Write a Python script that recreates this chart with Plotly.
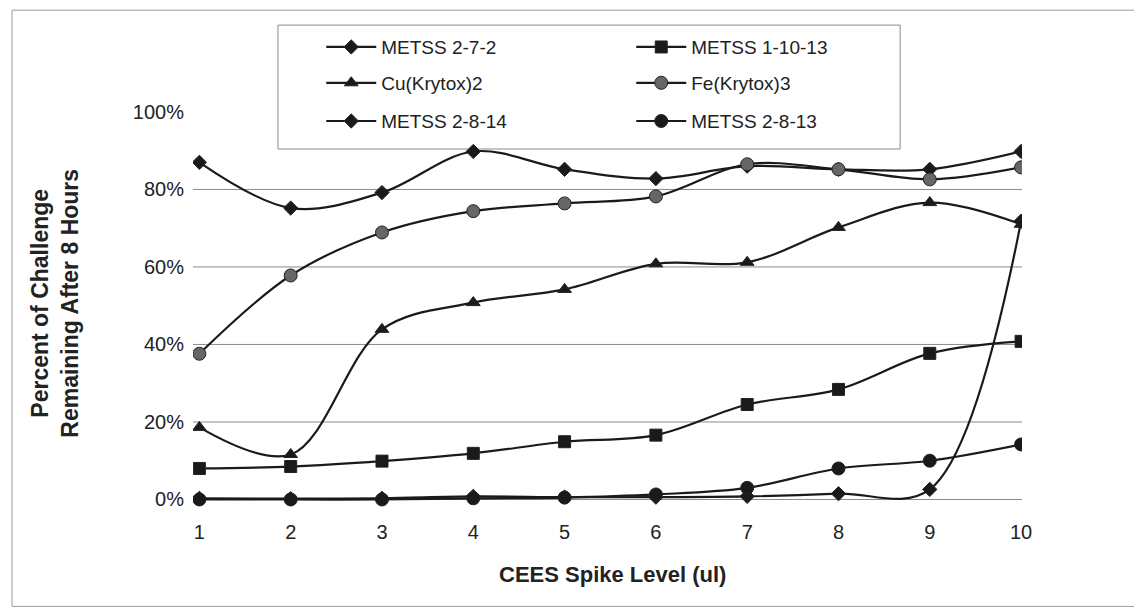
import plotly.graph_objects as go

spike_levels = [1, 2, 3, 4, 5, 6, 7, 8, 9, 10]
metss_2_7_2 = [87.0, 75.2, 79.2, 89.8, 85.2, 82.8, 86.0, 85.2, 85.2, 89.8]
metss_1_10_13 = [8.0, 8.5, 9.9, 11.9, 14.9, 16.6, 24.5, 28.4, 37.7, 40.8]
cu_krytox2 = [18.6, 11.6, 43.9, 50.8, 54.2, 60.8, 61.2, 70.2, 76.6, 71.0]
fe_krytox3 = [37.6, 57.8, 68.9, 74.4, 76.4, 78.2, 86.5, 85.2, 82.6, 85.7]
metss_2_8_14 = [0.3, 0.2, 0.3, 0.8, 0.6, 0.6, 0.8, 1.5, 2.6, 71.8]
metss_2_8_13 = [0.0, 0.0, 0.0, 0.3, 0.5, 1.3, 3.0, 8.0, 10.0, 14.2]
y_ticks = [0, 20, 40, 60, 80, 100]
y_tick_labels = ["0%", "20%", "40%", "60%", "80%", "100%"]
grid_values = [0, 20, 40, 60, 80]

FONT = "Liberation Sans, Arial, sans-serif"
INK = "#1a1a1a"

series = [
    ("METSS 2-7-2", metss_2_7_2, "diamond", 11, INK, "legend"),
    ("METSS 1-10-13", metss_1_10_13, "square", 12, INK, "legend"),
    ("Cu(Krytox)2", cu_krytox2, "triangle-up", 12, INK, "legend2"),
    ("Fe(Krytox)3", fe_krytox3, "circle", 13, "#666666", "legend2"),
    ("METSS 2-8-14", metss_2_8_14, "diamond", 11, INK, "legend3"),
    ("METSS 2-8-13", metss_2_8_13, "circle", 13, INK, "legend3"),
]

fig = go.Figure()
for name, vals, sym, size, fill, leg in series:
    fig.add_trace(go.Scatter(
        x=spike_levels, y=vals, name=name, mode="lines+markers",
        line=dict(color=INK, width=2.2, shape="spline", smoothing=1.0),
        marker=dict(symbol=sym, size=size, color=fill,
                    line=dict(color="#222222", width=1)),
        legend=leg,
    ))

shapes = []
for g in grid_values:
    shapes.append(dict(type="line", xref="paper", yref="y", x0=0, x1=1,
                       y0=g, y1=g, line=dict(color="#8a8a8a", width=1),
                       layer="below"))
# legend box
shapes.append(dict(type="rect", xref="paper", yref="paper",
                   x0=0.1025, x1=0.853, y0=0.902, y1=1.2133,
                   line=dict(color="#8a8a8a", width=1), layer="below"))
# chart frame
shapes.append(dict(type="rect", xref="paper", yref="paper",
                   x0=-0.2183, x1=1.1423, y0=-0.2472, y1=1.2509,
                   line=dict(color="#9a9a9a", width=1), layer="below"))

leg_common = dict(orientation="h", xanchor="left", yanchor="middle",
                  x=0.1547, font=dict(family=FONT, size=19, color="#222"),
                  bgcolor="rgba(0,0,0,0)", borderwidth=0,
                  entrywidth=245, itemwidth=50)

fig.update_layout(
    width=1142, height=610,
    margin=dict(l=185, r=128, t=102, b=110, autoexpand=False),
    paper_bgcolor="white", plot_bgcolor="white",
    font=dict(family=FONT, color="#222"),
    showlegend=True,
    legend=dict(leg_common, y=1.158),
    legend2=dict(leg_common, y=1.068),
    legend3=dict(leg_common, y=0.972),
    shapes=shapes,
    xaxis=dict(range=[0.93, 10.01], tickvals=spike_levels,
               ticktext=[str(v) for v in spike_levels],
               showgrid=False, zeroline=False, showline=False,
               tickfont=dict(family=FONT, size=20, color="#222"),
               ticklabelstandoff=10, automargin=False),
    yaxis=dict(range=[-2.2, 100.5], tickvals=y_ticks, ticktext=y_tick_labels,
               showgrid=False, zeroline=False, showline=False,
               tickfont=dict(family=FONT, size=20, color="#222"),
               ticklabelstandoff=8, automargin=False),
    annotations=[
        dict(text="<b>CEES Spike Level (ul)</b>", xref="paper", yref="paper",
             x=0.5066, y=-0.1669, xanchor="center", yanchor="middle",
             showarrow=False, font=dict(family=FONT, size=22, color="#222")),
        dict(text="<b>Percent of Challenge<br>Remaining After 8 Hours</b>",
             xref="paper", yref="paper", x=-0.1665, y=0.5157,
             xanchor="center", yanchor="middle", textangle=-90,
             showarrow=False, font=dict(family=FONT, size=23, color="#222")),
    ],
)

fig.write_html("out.html")
